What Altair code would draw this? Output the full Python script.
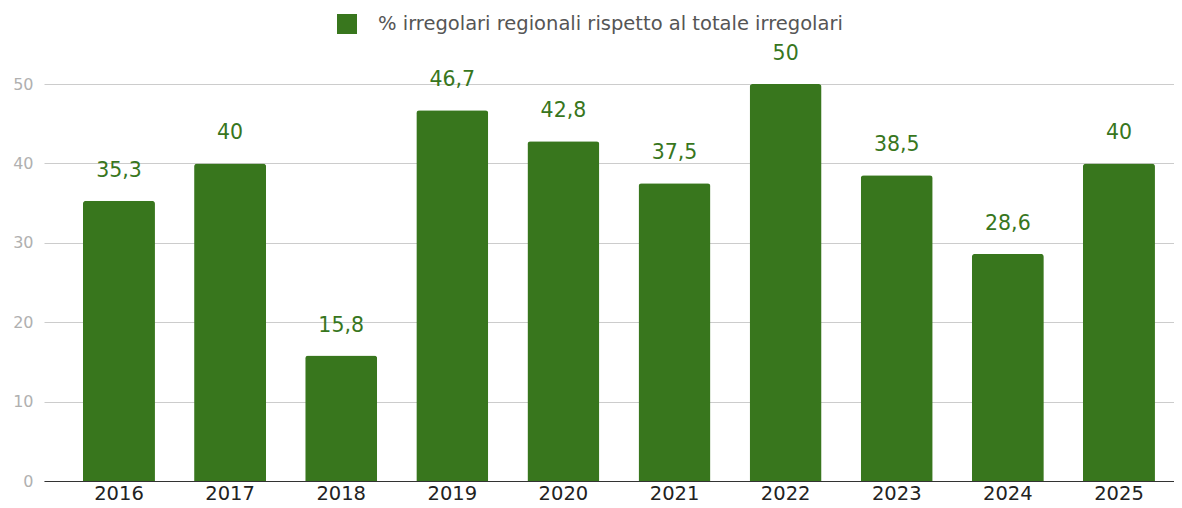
import altair as alt
import pandas as pd

years = ["2016", "2017", "2018", "2019", "2020", "2021", "2022", "2023", "2024", "2025"]
values = [35.3, 40, 15.8, 46.7, 42.8, 37.5, 50, 38.5, 28.6, 40]
series_name = "% irregolari regionali rispetto al totale irregolari"
y_ticks = [0, 10, 20, 30, 40, 50]


def fmt(v):
    s = ("%g" % v)
    return s.replace(".", ",")


df = pd.DataFrame({
    "year": years,
    "value": values,
    "label": [fmt(v) for v in values],
    "series": [series_name] * len(years),
})

GREEN = "#38761d"
FONT = "DejaVu Sans"

x = alt.X(
    "year:N",
    sort=years,
    scale=alt.Scale(paddingInner=0.352, paddingOuter=0.261, align=0.672),
    axis=alt.Axis(
        title=None, labelAngle=0, labelFontSize=19.5, labelColor="#222222",
        labelFont=FONT, labelPadding=3, ticks=False, domainColor="#333333",
        domainWidth=1, grid=False,
    ),
)
y = alt.Y(
    "value:Q",
    scale=alt.Scale(domain=[0, 50], nice=False),
    axis=alt.Axis(
        title=None, values=y_ticks, labelFontSize=16, labelColor="#b0b0b0",
        labelFont=FONT, labelPadding=11, ticks=False, domain=False,
        gridColor="#cccccc", gridWidth=1,
    ),
)

bars = alt.Chart(df).mark_bar(
    cornerRadiusTopLeft=3, cornerRadiusTopRight=3
).encode(
    x=x,
    y=y,
    color=alt.Color(
        "series:N",
        scale=alt.Scale(range=[GREEN]),
        legend=alt.Legend(
            title=None, orient="none", legendX=293, legendY=-70, padding=0,
            symbolType="square", symbolSize=400, symbolStrokeWidth=0,
            labelFontSize=19.5, labelColor="#555555", labelFont=FONT,
            labelOffset=21, labelLimit=0,
        ),
    ),
)

labels = alt.Chart(df).mark_text(
    baseline="alphabetic", dy=-24, fontSize=20.5, font=FONT, color=GREEN
).encode(
    x=alt.X("year:N", sort=years),
    y=alt.Y("value:Q"),
    text="label:N",
)

chart = alt.layer(bars, labels).properties(
    width=1130, height=397,
    autosize=alt.AutoSizeParams(type="none"),
    padding={"left": 36, "top": 76, "right": 0, "bottom": 27},
).configure_view(stroke=None)

chart.save("out.html", embed_options={"renderer": "svg", "actions": False})
